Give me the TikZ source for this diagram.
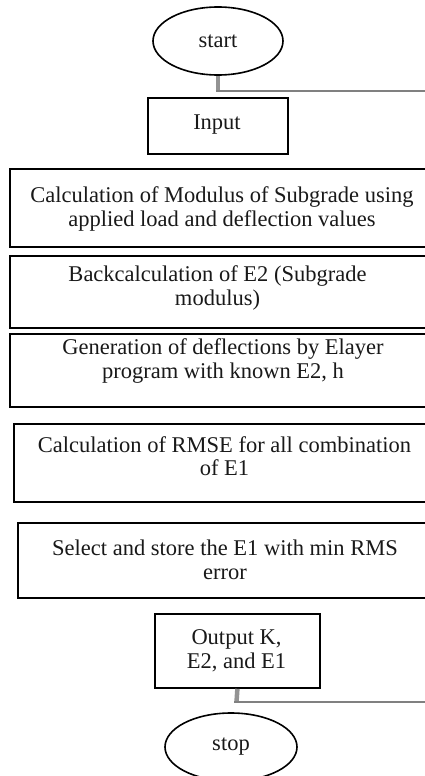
\documentclass[tikz,border=0pt]{standalone}
\usepackage{fontspec}
\setmainfont{Liberation Serif}
\usetikzlibrary{shapes.geometric}
\begin{document}
\begin{tikzpicture}[x=1pt,y=-1pt,
  box/.style={draw=black, line width=1.8pt, rectangle, inner sep=0pt, anchor=north west},
  lbl/.style={align=center, inner sep=0pt, text=black!90, font=\fontsize{22.5}{23.5}\selectfont},
  term/.style={draw=black, line width=1.6pt, ellipse, inner sep=0pt, lbl},
  stub/.style={draw=gray!85, line width=4.5pt},
  rail/.style={draw=gray, line width=2.4pt}]
\useasboundingbox (0,0) rectangle (425,776);
\clip (0,0) rectangle (425,776);

% start
\node[term, minimum width=130pt, minimum height=68pt] (start) at (218,41) {start};
\coordinate (j1) at (218,91);
\coordinate (r1) at (432,91);
\draw[stub] (start) -- (j1);
\draw[rail] ([xshift=-2.25pt]j1) -- (r1);

% input
\node[box, minimum width=140pt, minimum height=56pt] (input) at (147,97) {};
\node[lbl] (tinput) at (217,125) {Input};

% box 1
\node[box, minimum width=426pt, minimum height=78pt] (b1) at (9,168) {};
\node[lbl] (t1) at (222,209) {Calculation of Modulus of Subgrade using\\applied load and deflection values};

% box 2
\node[box, minimum width=417pt, minimum height=72pt] (b2) at (9,255) {};
\node[lbl] (t2) at (217.5,288) {Backcalculation of E2 (Subgrade\\modulus)};

% box 3
\node[box, minimum width=428pt, minimum height=73pt] (b3) at (9,333) {};
\node[lbl] (t3) at (223,361) {Generation of deflections by Elayer\\program with known E2, h};

% box 4
\node[box, minimum width=423pt, minimum height=78pt] (b4) at (13,423) {};
\node[lbl] (t4) at (224.5,456) {Calculation of RMSE for all combination\\of E1};

% box 5
\node[box, minimum width=416pt, minimum height=75pt] (b5) at (17,522) {};
\node[lbl] (t5) at (225,560) {Select and store the E1 with min RMS\\error};

% output
\node[box, minimum width=165pt, minimum height=74pt] (out) at (154,613) {};
\node[lbl] (tout) at (236.5,651) {Output K,\\E2, and E1};

% stub to rail
\coordinate (j2) at (236.5,702);
\coordinate (r2) at (432,702);
\draw[stub] (out.south) -- (j2);
\draw[rail] ([xshift=-2.25pt]j2) -- (r2);

% stop
\node[term, minimum width=132pt, minimum height=68pt] (stop) at (231,747) {stop};
\end{tikzpicture}
\end{document}
